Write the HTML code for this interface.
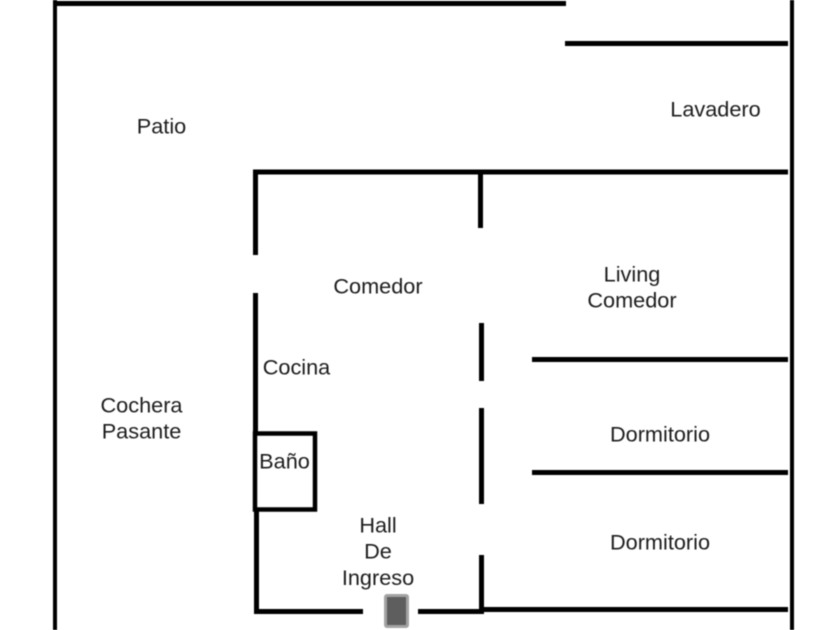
<!DOCTYPE html>
<html>
<head>
<meta charset="utf-8">
<style>
html,body{margin:0;padding:0;background:#fff;width:840px;height:630px;overflow:hidden}
svg{display:block}
text{font-family:"Liberation Sans",sans-serif;font-size:21.7px;fill:#1c1c1c;text-anchor:middle}
</style>
</head>
<body>
<svg width="840" height="630" viewBox="0 0 840 630" xmlns="http://www.w3.org/2000/svg">
<rect width="840" height="630" fill="#fff"/>
<g style="filter:blur(0.4px)">
<g fill="#000">
<!-- outer walls -->
<rect x="53" y="0" width="4" height="630"/>
<rect x="790" y="0" width="4" height="630"/>
<rect x="53" y="1" width="513" height="5"/>
<rect x="565" y="41" width="223" height="5"/>
<!-- top inner wall -->
<rect x="253" y="169.500" width="535" height="5"/>
<!-- left inner wall -->
<rect x="253" y="169.500" width="5" height="85.500"/>
<rect x="253" y="293" width="5" height="141"/>
<rect x="254" y="508" width="5" height="106"/>
<!-- centre wall -->
<rect x="478" y="169.500" width="5" height="58.500"/>
<rect x="479" y="323" width="5" height="58"/>
<rect x="479" y="408" width="5" height="96"/>
<rect x="479" y="555" width="5" height="58"/>
<!-- right partitions -->
<rect x="532" y="357" width="256" height="5"/>
<rect x="532" y="470" width="256" height="5"/>
<rect x="482" y="607" width="306" height="5"/>
<!-- bottom wall -->
<rect x="254" y="609" width="109" height="5"/>
<rect x="418" y="609" width="66" height="5"/>
</g>
<!-- bathroom -->
<rect x="255" y="433.500" width="60" height="76" fill="none" stroke="#000" stroke-width="4.500"/>
<!-- door -->
<rect x="384" y="594" width="25" height="34" rx="3" fill="#a3a3a3"/>
<rect x="387" y="597" width="19" height="28" fill="#5e5e5e"/>
<!-- labels -->
<text x="161.500" y="133.400">Patio</text>
<text x="715.500" y="116.400">Lavadero</text>
<text x="378" y="293.400">Comedor</text>
<text x="632" y="281.400">Living</text>
<text x="632" y="307.400">Comedor</text>
<text x="296.500" y="374.400">Cocina</text>
<text x="141.500" y="412.400">Cochera</text>
<text x="141.500" y="438.400">Pasante</text>
<text x="284.500" y="468.400">Baño</text>
<text x="660" y="441.400">Dormitorio</text>
<text x="660" y="549.400">Dormitorio</text>
<text x="378" y="532.400">Hall</text>
<text x="378" y="558.400">De</text>
<text x="378" y="585">Ingreso</text>
</g>
</svg>
</body>
</html>
